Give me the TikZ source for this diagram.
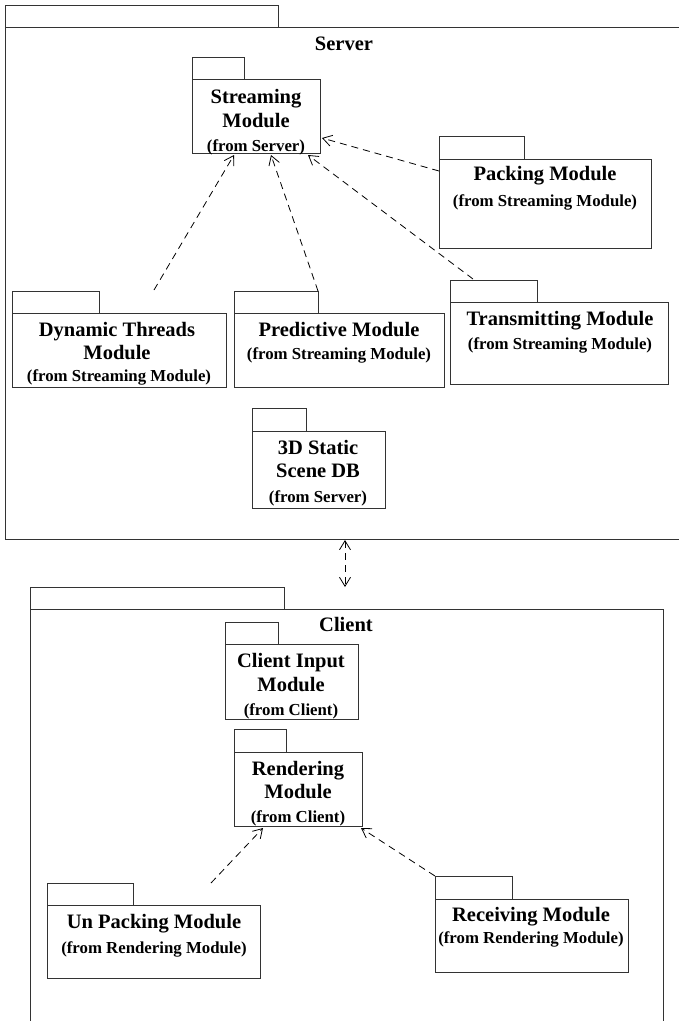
\documentclass[tikz,border=0pt]{standalone}
\usepackage{fontspec}
\setmainfont{Liberation Serif}
\usetikzlibrary{arrows.meta,calc}
\begin{document}
\begin{tikzpicture}[x=1pt,y=-1pt,
  line/.style={draw=black!80, line width=1pt},
  box/.style={line, rectangle, inner sep=0pt, anchor=north west},
  ttl/.style={font=\fontsize{20.5}{24}\bfseries\selectfont, inner sep=0pt, anchor=mid, yshift=-4pt},
  sub/.style={font=\fontsize{16.8}{20}\bfseries\selectfont, inner sep=0pt, anchor=mid, yshift=-4pt},
  barb/.tip={Straight Barb[length=9pt,width=11pt,line width=0.8pt]},
  dep/.style={draw=black, line width=0.8pt, dash pattern=on 7pt off 5pt, -barb},
]
\useasboundingbox (0,0) rectangle (678,1021);

% ---------- Server ----------
\node[box, minimum width=700pt, minimum height=512pt] (srv) at (5,27) {};
\draw[line] (srv.north west) rectangle ++(273,-22);
\node[ttl] (srvT) at (344,44) {Server};

\node[box, minimum width=128pt, minimum height=74pt] (str) at (192,79) {};
\draw[line] (str.north west) rectangle ++(52,-22);
\node[ttl] (strA) at (256,97) {Streaming};
\node[ttl] (strB) at (256,121) {Module};
\node[sub] (strC) at (256,145) {(from Server)};

\node[box, minimum width=212pt, minimum height=89pt] (pack) at (439,159) {};
\draw[line] (pack.north west) rectangle ++(85,-23);
\node[ttl] (packA) at (545,174) {Packing Module};
\node[sub] (packB) at (545,200) {(from Streaming Module)};

\node[box, minimum width=214pt, minimum height=74pt] (dyn) at (12,313) {};
\draw[line] (dyn.north west) rectangle ++(87,-22);
\node[ttl] (dynA) at (117,330) {Dynamic Threads};
\node[ttl] (dynB) at (117,353) {Module};
\node[sub] (dynC) at (119,375) {(from Streaming Module)};

\node[box, minimum width=210pt, minimum height=74pt] (pred) at (234,313) {};
\draw[line] (pred.north west) rectangle ++(84,-22);
\node[ttl] (predA) at (339,330) {Predictive Module};
\node[sub] (predB) at (339,353) {(from Streaming Module)};

\node[box, minimum width=218pt, minimum height=82pt] (trans) at (450,302) {};
\draw[line] (trans.north west) rectangle ++(87,-22);
\node[ttl] (transA) at (560,319) {Transmitting Module};
\node[sub] (transB) at (560,343) {(from Streaming Module)};

\node[box, minimum width=133pt, minimum height=77pt] (db) at (252,431) {};
\draw[line] (db.north west) rectangle ++(54,-23);
\node[ttl] (dbA) at (318,448) {3D Static};
\node[ttl] (dbB) at (318,471) {Scene DB};
\node[sub] (dbC) at (318,496) {(from Server)};

\draw[dep] ($(pack.north west)+(0,12)$) -- ($(str.south east)+(1,-16)$);
\draw[dep] ($(dyn.north west)+(142,-23)$) -- ($(str.south west)+(42,1)$);
\draw[dep] ($(pred.north west)+(84,-22)$) -- ($(str.south west)+(79,1)$);
\draw[dep] ($(trans.north west)+(23,-23)$) -- ($(str.south west)+(116,1)$);

% ---------- Client ----------
\node[box, minimum width=633pt, minimum height=430pt] (cli) at (30,609) {};
\draw[line] (cli.north west) rectangle ++(254,-22);
\node[ttl] (cliT) at (346,625) {Client};

\draw[dep, barb-barb] ($(srv.south west)+(340,0)$) -- ($(cli.north west)+(315,-22)$);

\node[box, minimum width=133pt, minimum height=75pt] (inp) at (225,644) {};
\draw[line] (inp.north west) rectangle ++(53,-22);
\node[ttl] (inpA) at (291,661) {Client Input};
\node[ttl] (inpB) at (291,685) {Module};
\node[sub] (inpC) at (291,709) {(from Client)};

\node[box, minimum width=128pt, minimum height=74pt] (ren) at (234,752) {};
\draw[line] (ren.north west) rectangle ++(52,-23);
\node[ttl] (renA) at (298,769) {Rendering};
\node[ttl] (renB) at (298,792) {Module};
\node[sub] (renC) at (298,816) {(from Client)};

\node[box, minimum width=213pt, minimum height=73pt] (unp) at (47,905) {};
\draw[line] (unp.north west) rectangle ++(86,-22);
\node[ttl] (unpA) at (154,922) {Un Packing Module};
\node[sub] (unpB) at (154,947) {(from Rendering Module)};

\node[box, minimum width=193pt, minimum height=73pt] (rec) at (435,899) {};
\draw[line] (rec.north west) rectangle ++(77,-23);
\node[ttl] (recA) at (531,915) {Receiving Module};
\node[sub] (recB) at (531,937) {(from Rendering Module)};

\draw[dep] ($(unp.north west)+(164,-22)$) -- ($(ren.south west)+(29,1)$);
\draw[dep] ($(rec.north west)+(0,-23)$) -- ($(ren.south east)+(-2,1)$);
\end{tikzpicture}
\end{document}
